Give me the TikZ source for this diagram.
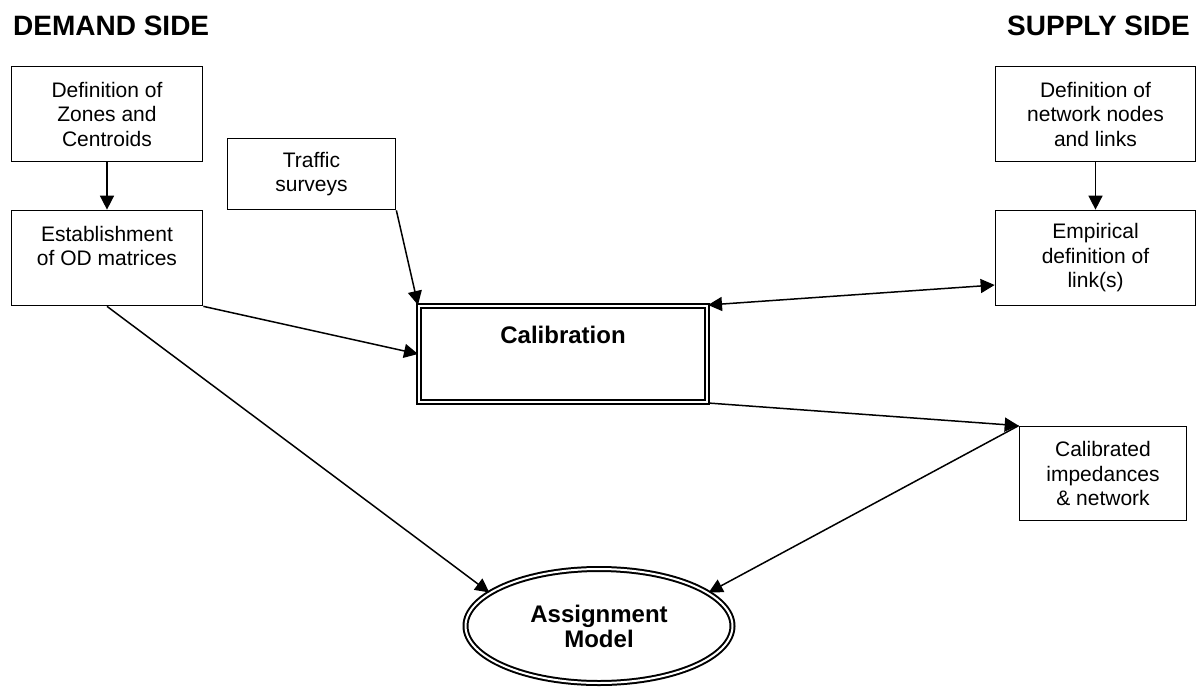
\documentclass[tikz,border=0pt]{standalone}
\usepackage{fontspec}
\setmainfont{Liberation Sans}
\usetikzlibrary{shapes.geometric,arrows.meta}

\begin{document}
\begin{tikzpicture}[
    x=1pt,y=-1pt,
    >={Triangle[length=14pt,width=14pt]},
    box/.style={draw, line width=1.7pt, inner sep=0pt, align=center,
      font=\fontsize{21}{24.5}\selectfont},
    dblbox/.style={draw, double, line width=2pt, double distance=2pt,
      inner sep=0pt, align=center, font=\fontsize{24}{25}\selectfont\bfseries},
    side/.style={inner sep=0pt, font=\fontsize{28}{32}\selectfont\bfseries},
    arr/.style={line width=1.5pt, ->}
    ]
    \useasboundingbox (0,0) rectangle (1199,688);
    % titles
    \node[side, anchor=base west] (dem) at (13,35) {DEMAND SIDE};
    \node[side, anchor=base east] (sup) at (1190,35) {SUPPLY SIDE};
    % demand side
    \node[box, minimum width=191pt, minimum height=95pt] (zones) at (107,114) {Definition of\\Zones and\\Centroids};
    \node[box, minimum width=191pt, minimum height=95pt] (od) at (107,258) {Establishment\\of OD matrices\\\mbox{}};
    \node[box, minimum width=168pt, minimum height=71pt] (traffic) at (311.5,174) {Traffic\\surveys};
    % supply side
    \node[box, minimum width=200pt, minimum height=95pt] (netw) at (1095.5,114) {Definition of\\network nodes\\and links};
    \node[box, minimum width=200pt, minimum height=95pt] (emp) at (1095.5,258) {Empirical\\definition of\\link(s)};
    \node[box, minimum width=167pt, minimum height=94pt] (calb) at (1103,473.5) {Calibrated\\impedances\\\& network};
    % middle
    \node[dblbox, minimum width=288pt, minimum height=96pt] (cal) at (563,354) {Calibration\\[14pt]\mbox{}};
    \node[dblbox, ellipse, minimum width=267pt, minimum height=114pt] (asg) at (599,626) {Assignment\\Model};
    % arrows
    \draw[arr] (zones) -- (od);
    \draw[arr] (netw) -- (emp);
    \draw[arr] (traffic.south east) -- (cal.north west);
    \draw[arr] (od.south east) -- (cal.west);
    \draw[arr, <->] ([yshift=-27pt]emp.west) -- (cal.north east);
    \draw[arr] (cal.south east) -- (calb.north west);
    \draw[arr] (calb.north west) -- (asg.17);
    \draw[arr] (od.south) -- (asg.163);
\end{tikzpicture}
\end{document}
